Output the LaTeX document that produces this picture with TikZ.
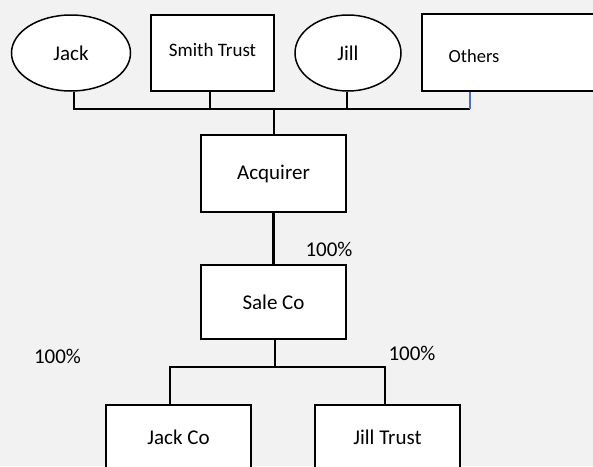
\documentclass[tikz,border=0pt]{standalone}
\usepackage{fontspec}
\setmainfont{Carlito}
\usetikzlibrary{shapes.geometric}
\definecolor{bgc}{RGB}{242,242,242}
\definecolor{tickblue}{RGB}{68,114,196}
\begin{document}
\begin{tikzpicture}[x=1pt,y=-1pt,
  txt/.style={font=\fontsize{21}{24}\selectfont},
  box/.style={draw=black,fill=white,rectangle,line width=1.5pt,inner sep=0pt,txt},
  oval/.style={draw=black,fill=white,ellipse,line width=1.5pt,inner sep=0pt,txt},
  conn/.style={draw=black,line width=2pt},
  bold/.style={draw=black,line width=2.6pt}]
\fill[bgc] (0,0) rectangle (593,466);
\clip (0,0) rectangle (593,466);
% top row
\node[oval,minimum width=119pt,minimum height=76pt] (jack) at (71,53) {Jack};
\node[box,minimum width=123pt,minimum height=76pt,font=\fontsize{19}{22}\selectfont] (smith) at (212.5,53) {\raisebox{7pt}{Smith Trust}};
\node[oval,minimum width=106pt,minimum height=76pt] (jill) at (348,53) {Jill};
\node[box,minimum width=185pt,minimum height=77pt] (others) at (514.5,52.5) {};
\node[txt,font=\fontsize{18.5}{22}\selectfont] (otherslbl) at (474,56) {Others};
% middle
\node[box,minimum width=145pt,minimum height=77pt] (acq) at (273.5,173.5) {Acquirer};
\node[box,minimum width=145pt,minimum height=74pt] (sale) at (273.5,302) {\raisebox{-4pt}{Sale Co}};
% bottom
\node[box,minimum width=145pt,minimum height=64pt] (jackco) at (178.5,437) {Jack Co};
\node[box,minimum width=145pt,minimum height=64pt] (jilltrust) at (387.5,437) {Jill Trust};
% bus
\coordinate (bL) at (74,108.5);
\coordinate (bR) at (470,108.5);
\draw[conn] ([xshift=3pt]jack.south) -- ([xshift=3pt]jack.south |- bL) -- (bR);
\draw[conn] ([xshift=-2.5pt]smith.south) -- ([xshift=-2.5pt]smith.south |- bL);
\draw[conn] ([xshift=-1pt]jill.south) -- ([xshift=-1pt]jill.south |- bL);
\draw[line width=2pt,tickblue] (bR |- others.south) -- (bR);
\draw[conn] (acq.north) -- (acq.north |- bL);
% Acquirer to Sale Co
\draw[bold] (acq.south) -- (sale.north);
\node[txt] (pct1) at (329,249) {100\%};
% Sale Co to children
\coordinate (split) at (275,367);
\draw[bold] ([xshift=1.5pt]sale.south) -- (split);
\draw[bold] ([xshift=-8.5pt]jackco.north) |- (split) -| ([xshift=-2.5pt]jilltrust.north);
\node[txt] (pct2) at (57.5,356) {100\%};
\node[txt] (pct3) at (412,353) {100\%};
\end{tikzpicture}
\end{document}
